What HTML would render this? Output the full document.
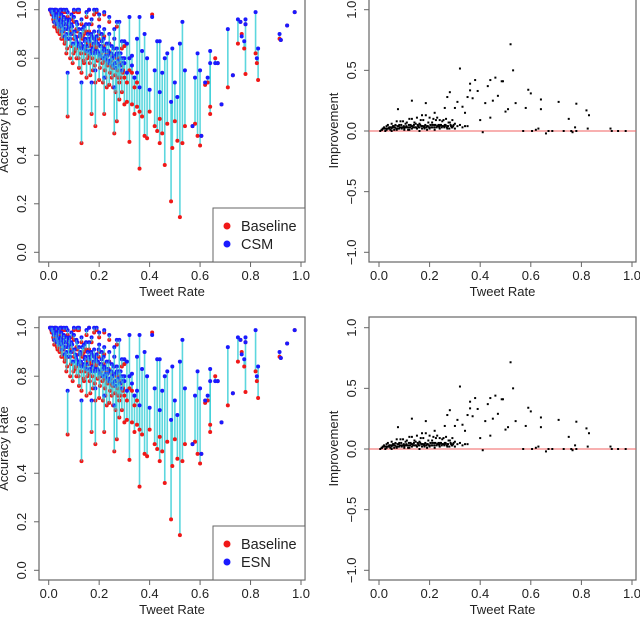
<!DOCTYPE html>
<html><head><meta charset="utf-8"><style>
body{margin:0;background:#fff;}
svg text{font-family:"Liberation Sans",Arial,sans-serif;fill:#222;}
</style></head><body>
<svg id="c" width="640" height="615" xmlns="http://www.w3.org/2000/svg"></svg>
<script>
const tweetRate = [0.01,0.015,0.02,0.02,0.025,0.03,0.03,0.035,0.04,0.04,0.045,0.05,0.05,0.055,0.06,0.06,0.065,0.07,0.07,0.075,0.08,0.08,0.085,0.09,0.09,0.095,0.10,0.10,0.105,0.11,0.11,0.115,0.12,0.12,0.125,0.13,0.13,0.135,0.14,0.14,0.145,0.15,0.15,0.155,0.16,0.16,0.165,0.17,0.17,0.175,0.18,0.18,0.185,0.19,0.19,0.195,0.20,0.20,0.205,0.21,0.21,0.215,0.22,0.22,0.225,0.23,0.23,0.235,0.24,0.24,0.245,0.25,0.25,0.255,0.26,0.26,0.265,0.27,0.275,0.28,0.285,0.29,0.295,0.30,0.24,0.27,0.22,0.16,0.12,0.05,0.30,0.32,0.31,0.33,0.34,0.35,
0.075,0.13,0.17,0.185,0.22,0.26,0.32,0.36,0.41,0.44,0.46,0.485,0.49,0.52,0.53,0.51,0.54,0.58,0.59,0.60,0.605,0.64,0.64,0.66,0.67,0.685,0.71,0.73,0.75,0.76,0.765,0.775,0.78,0.78,0.82,0.825,0.83,0.915,0.92,0.945,0.975,0.36,0.38,0.39,0.35,0.42,0.43,0.45,0.47,0.50,0.40,0.33,0.30,0.28,0.27,0.31,0.37,0.34,0.44,0.57,0.62,0.63,
0.005,0.012,0.018,0.022,0.028,0.033,0.038,0.043,0.048,0.053,0.058,0.063,0.068,0.073,0.078,0.083,0.088,0.093,0.098,0.103,0.108,0.113,0.118,0.123,0.128,0.133,0.138,0.143,0.148,0.153,0.158,0.163,0.168,0.173,0.178,0.183,0.188,0.193,0.198,0.203,0.208,0.213,0.218,0.223,0.228,0.233,0.238,0.243,0.248,0.253,0.258,0.263,0.268,0.273,0.278,0.283,0.288,0.293,0.15,0.20,0.18,0.10,0.07,0.26,0.29];
const baselineAcc = [.99,.98,.96,.95,1.0,.94,.99,.91,.97,.92,.99,.88,.96,.89,.94,.99,.87,.94,.82,.97,.88,.93,.80,.91,.96,.78,.88,.95,.83,.92,.80,.99,.76,.89,.85,.94,.74,.89,.78,.90,.82,.97,.72,.86,.81,.91,.73,.85,.94,.75,.84,.88,.70,.99,.85,.79,.71,.90,.80,.80,.87,.70,.79,.89,.72,.82,.68,.78,.86,.69,.77,.81,.72,.68,.76,.84,.66,.80,.72,.70,.78,.66,.75,.72,.95,.93,.98,1.0,.99,1.0,.85,.75,.70,.74,.68,.70,
.56,.45,.57,.52,.57,.49,.455,.345,.98,.45,.36,.21,.43,.145,.45,.46,.52,.53,.48,.44,.48,.57,.60,.80,.78,.61,.68,.73,.86,.95,.90,.84,.735,.94,.82,.78,.71,.88,.875,.935,.99,.58,.48,.47,.60,.52,.50,.49,.53,.54,.58,.61,.61,.63,.54,.62,.56,.57,.55,.52,.69,.70,
1.0,.98,.96,.93,.95,.92,.96,.90,.93,.88,.91,.86,.92,.84,.88,.93,.85,.90,.82,.88,.84,.91,.80,.86,.82,.88,.79,.84,.91,.80,.85,.78,.86,.80,.83,.77,.84,.79,.88,.76,.82,.78,.85,.75,.80,.77,.83,.74,.79,.76,.81,.73,.78,.75,.80,.72,.77,.74,.97,.96,.98,.99,.99,.88,.84];
const csmAcc = [1.0,1.0,.99,.97,1.0,.98,1.0,.96,.99,.95,1.0,.94,.98,.93,.97,1.0,.92,.96,.90,.99,.93,.95,.88,.94,.98,.86,.91,.97,.89,.95,.87,1.0,.86,.92,.90,.96,.84,.92,.85,.93,.88,.99,.83,.90,.87,.94,.82,.89,.96,.84,.88,.91,.83,1.0,.89,.86,.82,.93,.85,.87,.90,.80,.84,.92,.81,.86,.79,.83,.90,.78,.82,.85,.80,.77,.81,.88,.76,.84,.79,.77,.82,.75,.80,.78,.97,.95,.99,1.0,1.0,1.0,.87,.80,.74,.77,.72,.74,
.74,.70,.70,.75,.72,.68,.97,.68,.97,.87,.80,.62,.84,.86,.95,.64,.75,.72,.82,.75,.48,.83,.78,.78,.78,.61,.92,.73,.96,.95,.89,.87,.96,.94,.99,.80,.84,.90,.875,.935,.99,.97,.90,.80,.88,.75,.87,.74,.82,.70,.67,.81,.80,.95,.82,.86,.83,.72,.66,.52,.70,.72,
1.0,.99,.98,.95,.97,.94,.98,.93,.96,.91,.95,.89,.94,.88,.92,.96,.90,.93,.86,.91,.88,.94,.85,.89,.86,.92,.84,.87,.94,.85,.88,.83,.90,.84,.86,.82,.87,.83,.91,.81,.85,.83,.88,.80,.83,.81,.86,.79,.82,.80,.84,.78,.81,.79,.82,.77,.80,.78,.99,.98,1.0,1.0,1.0,.92,.87];
const xTicks = [0,0.2,0.4,0.6,0.8,1.0];
const xTickLabels = ["0.0","0.2","0.4","0.6","0.8","1.0"];
const yTicksAcc = [0,0.2,0.4,0.6,0.8,1.0];
const yTickLabelsAcc = ["0.0","0.2","0.4","0.6","0.8","1.0"];
const yTicksImp = [-1,-0.5,0,0.5,1];
const yTickLabelsImp = ["\u22121.0","\u22120.5","0.0","0.5","1.0"];

const NS="http://www.w3.org/2000/svg";
const svg=document.getElementById('c');
function mk(tag,attrs,parent){const e=document.createElementNS(NS,tag);for(const k in attrs)e.setAttribute(k,attrs[k]);(parent||svg).appendChild(e);return e;}

function panel(oy, right, label, suffix){
  const g=mk('g',{});
  
  
  const L = right?369:39, R = right?636:305, T=oy-1, B=oy+262;
  const x0 = right?379:48.7, x1 = right?632:301;
  const sx=v=>x0+(x1-x0)*v;
  let sy;
  if(right){ sy=v=>oy+131-(121.3)*v; } else { sy=v=>oy+252.3-242.6*v; }
  const box=mk('rect',{x:L,y:T,width:R-L,height:B-T,fill:'none',stroke:'#666','stroke-width':1.2},g);
  
  
  xTicks.forEach((t,i)=>{
    const tl=mk('line',{x1:sx(t),x2:sx(t),y1:B,y2:B+5,stroke:'#666'},g);
    
    
    const tx=mk('text',{x:sx(t),y:B+18,'text-anchor':'middle','font-size':13},g);
    tx.textContent=xTickLabels[i];
    
    
  });
  const xt=mk('text',{x:(L+R)/2,y:B+34,'text-anchor':'middle','font-size':13},g);
  xt.textContent='Tweet Rate';
  
  
  const yt=right?yTicksImp:yTicksAcc, ytl=right?yTickLabelsImp:yTickLabelsAcc;
  yt.forEach((t,i)=>{
    const tl=mk('line',{x1:L-5,x2:L,y1:sy(t),y2:sy(t),stroke:'#666'},g);
    
    
    const lx=L-13;
    const tx=mk('text',{x:lx,y:sy(t),'text-anchor':'middle','font-size':13,transform:`rotate(-90 ${lx} ${sy(t)})`},g);
    tx.textContent=ytl[i];
    
    
  });
  const yx=L-31, ymid=(T+B)/2;
  const ya=mk('text',{x:yx,y:ymid,'text-anchor':'middle','font-size':13,transform:`rotate(-90 ${yx} ${ymid})`},g);
  ya.textContent=right?'Improvement':'Accuracy Rate';
  
  
  if(right){
    const z=mk('line',{x1:L,x2:R,y1:sy(0),y2:sy(0),stroke:'#f06060','stroke-width':1},g);
    
    
    tweetRate.forEach((x,i)=>{
      const d=mk('rect',{x:sx(x)-1,y:sy(csmAcc[i]-baselineAcc[i])-1,width:2,height:2,fill:'#000'},g);
      
      
    });
  } else {
    tweetRate.forEach((x,i)=>{
      const s=mk('line',{x1:sx(x),x2:sx(x),y1:sy(baselineAcc[i]),y2:sy(csmAcc[i]),stroke:'#40d0d8','stroke-width':1.6,'stroke-opacity':0.85},g);
      
      
    });
    tweetRate.forEach((x,i)=>{
      const b=mk('circle',{cx:sx(x),cy:sy(baselineAcc[i]),r:2,fill:'#f01818'},g);
      
      
    });
    tweetRate.forEach((x,i)=>{
      const c=mk('circle',{cx:sx(x),cy:sy(csmAcc[i]),r:2,fill:'#1a1aff'},g);
      
      
    });
    tweetRate.forEach((x,i)=>{
      if(x<0.3){
        const s=mk('line',{x1:sx(x),x2:sx(x),y1:sy(baselineAcc[i]),y2:sy(csmAcc[i]),stroke:'#40d0d8','stroke-width':1.2,'stroke-opacity':0.6},g);
        
        
      }
    });
    const lg=mk('g',{},g);
    
    
    mk('rect',{x:213,y:oy+208,width:92,height:54,fill:'#fff',stroke:'#666','stroke-width':1},lg);
    [['Baseline','#f01818',226],[label,'#1a1aff',244]].forEach(([t,c,y])=>{
      const e=mk('g',{},lg);
      
      
      mk('circle',{cx:227,cy:oy+y,r:3.5,fill:c},e);
      const tx=mk('text',{x:241,y:oy+y+5,'font-size':14.5},e);
      tx.textContent=t;
    });
  }
}
panel(0,false,'CSM','top');
panel(0,true,'CSM','top');
panel(318,false,'ESN','bottom');
panel(318,true,'ESN','bottom');
</script>
</body></html>
